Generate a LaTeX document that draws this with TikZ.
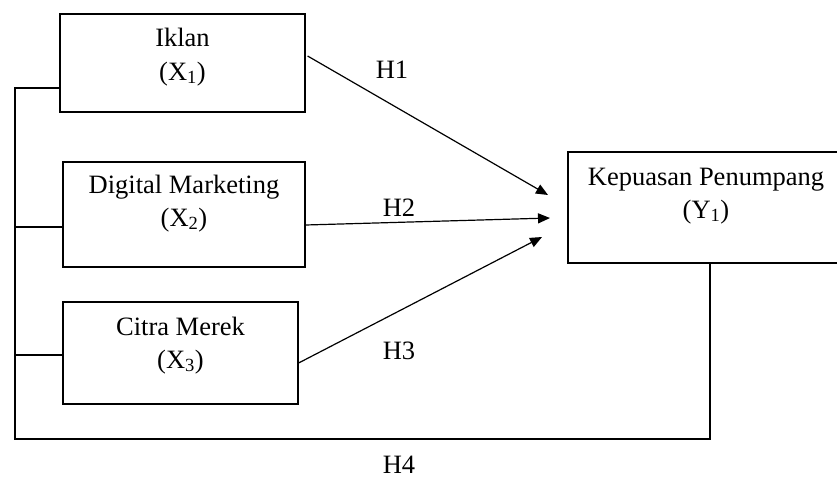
\documentclass[tikz,border=0pt]{standalone}
\usepackage{fontspec}
\setmainfont{Liberation Serif}
\usetikzlibrary{arrows.meta}
\begin{document}
\begin{tikzpicture}[x=1pt,y=-1pt, line width=1.2pt,
  box/.style={draw, rectangle, inner sep=0pt},
  lbl/.style={font=\fontsize{26.5}{35}\selectfont, anchor=base, inner sep=0pt},
  hlbl/.style={font=\fontsize{26.5}{35}\selectfont, anchor=center, inner sep=0pt},
  arr/.style={-{Triangle[length=12pt,width=10pt]}}]
\clip (0,0) rectangle (837,479);
\fill[white] (0,0) rectangle (837,479);
% boxes
\node[box, minimum width=245pt, minimum height=98pt] (b1) at (182.5,63) {};
\node[box, minimum width=242pt, minimum height=105pt] (b2) at (184,214.5) {};
\node[box, minimum width=235pt, minimum height=102pt] (b3) at (180.5,353) {};
\node[box, minimum width=276pt, minimum height=111pt] (b4) at (706,207.5) {};
% texts
\node[lbl] (t1a) at (182.5,46) {Iklan};
\node[lbl] (t1b) at (182.5,80) {(X\textsubscript{1})};
\node[lbl] (t2a) at (184,193) {Digital Marketing};
\node[lbl] (t2b) at (184,226) {(X\textsubscript{2})};
\node[lbl] (t3a) at (180.5,335) {Citra Merek};
\node[lbl] (t3b) at (180.5,368) {(X\textsubscript{3})};
\node[lbl] (t4a) at (706,185) {Kepuasan Penumpang};
\node[lbl] (t4b) at (706,218) {(Y\textsubscript{1})};
% left/bottom connector
\coordinate (L1) at (15,88);
\coordinate (L2) at (15,227);
\coordinate (L3) at (15,355);
\coordinate (L4) at (15,439);
\coordinate (R4) at (710,439);
\draw (b1.west |- L1) -- (L1) -- (L4) -- (R4) -- (b4.south -| R4);
\draw (L2) -- (b2.west |- L2);
\draw (L3) -- (b3.west |- L3);
% arrows
\coordinate (s1) at (0,56);
\coordinate (s2) at (0,225);
\coordinate (s3) at (0,363);
\coordinate (e1) at (548,195);
\coordinate (e2) at (550,218);
\coordinate (e3) at (542,237);
\draw[arr] ([xshift=2pt]b1.east |- s1) -- (e1);
\draw[arr] (b2.east |- s2) -- (e2);
\draw[arr] (b3.east |- s3) -- (e3);
% H labels
\node[hlbl] (h1) at (392,70) {H1};
\node[hlbl] (h2) at (399,208) {H2};
\node[hlbl] (h3) at (399,351) {H3};
\node[hlbl] (h4) at (399,465) {H4};
\end{tikzpicture}
\end{document}
